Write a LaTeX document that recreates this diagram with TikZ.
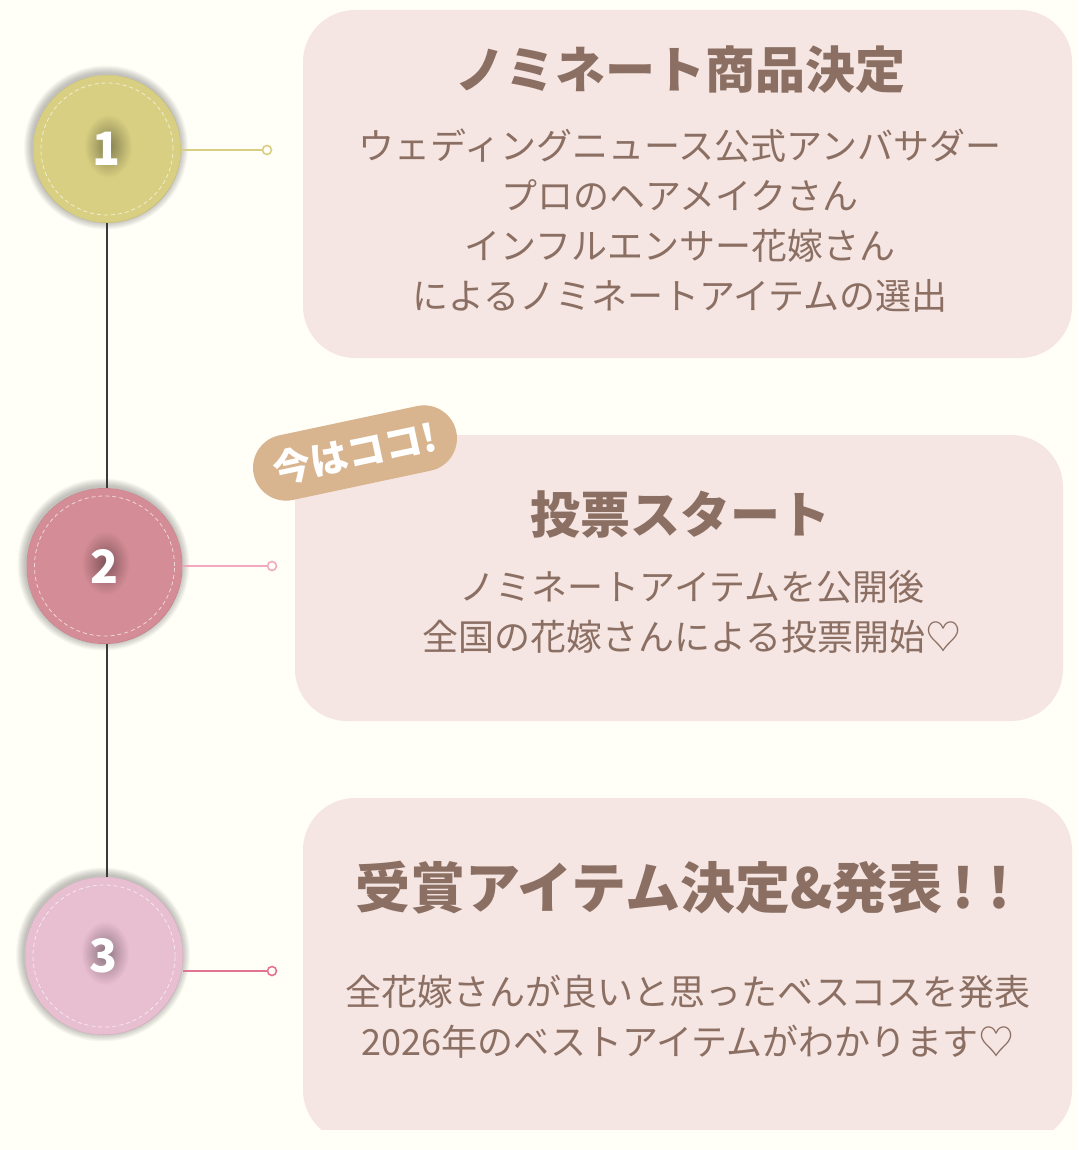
\documentclass[tikz,border=0pt]{standalone}
\usepackage{fontspec}
\newfontfamily\jp{Noto Sans CJK JP}
\usetikzlibrary{positioning}
\definecolor{bgcream}{HTML}{FFFEF7}
\definecolor{cardpink}{HTML}{F5E6E3}
\definecolor{textbrown}{HTML}{8C6F63}
\definecolor{stepone}{HTML}{D8CF82}
\definecolor{steptwo}{HTML}{D48C96}
\definecolor{stepthree}{HTML}{E8BED1}
\definecolor{linetwo}{HTML}{F2A9C0}
\definecolor{linethree}{HTML}{E27393}
\definecolor{badgetan}{HTML}{D8B48F}
\definecolor{spine}{HTML}{3A3A3A}

\tikzset{
  card/.style={fill=cardpink, rounded corners=52pt},
  cardtitle/.style={text=textbrown, font=\jp\bfseries\fontsize{50}{60}\selectfont},
  cardtext/.style={text=textbrown, align=center, font=\jp\fontsize{36}{50}\selectfont},
  stepcircle/.style={circle, minimum size=#1, inner sep=0pt},
  stepnum/.style={text=white, font=\jp\bfseries\fontsize{46}{50}\selectfont},
  enddot/.style={circle, draw=#1, fill=bgcream, line width=1.6pt, minimum size=9pt, inner sep=0pt},
  badge/.style={fill=badgetan, rounded corners=33pt, minimum width=207pt, minimum height=66pt,
    text=white, font=\jp\bfseries\fontsize{38}{40}\selectfont}
}

\begin{document}
\begin{tikzpicture}[x=1pt, y=-1pt]
\fill[bgcream] (0,0) rectangle (1078,1150);
\useasboundingbox (0,0) rectangle (1078,1150);

% cards
\fill[card] (303,10) rectangle (1072,358);
\fill[card] (295,435) rectangle (1063,721);
\begin{scope}
\clip (0,0) rectangle (1078,1129);
\fill[card] (303,798) rectangle (1072,1142);
\end{scope}

% step circles
\node[stepcircle=148pt, fill=stepone] (c1) at (107,149) {};
\node[stepcircle=156pt, fill=steptwo] (c2) at (104.5,566) {};
\node[stepcircle=158pt, fill=stepthree] (c3) at (104,956) {};
\foreach \c/\r/\col in {c1/74/stepone,c2/78/steptwo,c3/79/stepthree}{
  \foreach \g in {1,...,8}
    \fill[black, opacity=0.03, even odd rule] ([shift={(-1pt,1.5pt)}]\c) circle ({\r pt+\g pt}) (\c) circle (\r pt);
  \draw[white, opacity=0.65, line width=0.8pt, dash pattern=on 4pt off 3pt] (\c) circle ({\r pt-8pt});
  \shade[inner color=\col!60!black, outer color=\col] ([shift={(1pt,3pt)}]\c) ellipse (24pt and 32pt);
}

% spine
\draw[spine, line width=1.8pt] (c1.south) -- (c1.south |- c2.north);
\draw[spine, line width=1.8pt] (c1.south |- c2.south) -- (c1.south |- c3.north);

% connectors
\node[enddot=stepone] (d1) at (267,150) {};
\node[enddot=linetwo] (d2) at (272,566) {};
\node[enddot=linethree] (d3) at (272,971) {};
\draw[stepone, line width=2pt] (d1 -| c1.east) -- (d1);
\draw[linetwo, line width=2pt] (d2 -| c2.east) -- (d2);
\draw[linethree, line width=2pt] (d3 -| c3.east) -- (d3);

% numbers
\node[stepnum] (n1) at (c1) {1};
\node[stepnum] (n2) at (c2) {2};
\node[stepnum] (n3) at (c3) {3};

% texts
\node[cardtitle] (t1) at (680,70) {ノミネート商品決定};
\node[cardtext] (b1) at (680,221) {ウェディングニュース公式アンバサダー\\プロのヘアメイクさん\\インフルエンサー花嫁さん\\によるノミネートアイテムの選出};
\node[cardtitle] (t2) at (680,515) {投票スタート};
\node[cardtext] (b2) at (692,612) {ノミネートアイテムを公開後\\全国の花嫁さんによる投票開始♡};
\node[cardtitle, font=\jp\bfseries\fontsize{55}{60}\selectfont, anchor=west] (t3) at (352,888) {受賞アイテム決定\&発表\hspace{10pt}!\hspace{14pt}!};
\node[cardtext] (b3) at (688,1017) {全花嫁さんが良いと思ったベスコスを発表\\2026年のベストアイテムがわかります♡};

% badge
\node[badge, rotate=12] (now) at (355,453) {今はココ!};
\end{tikzpicture}
\end{document}
